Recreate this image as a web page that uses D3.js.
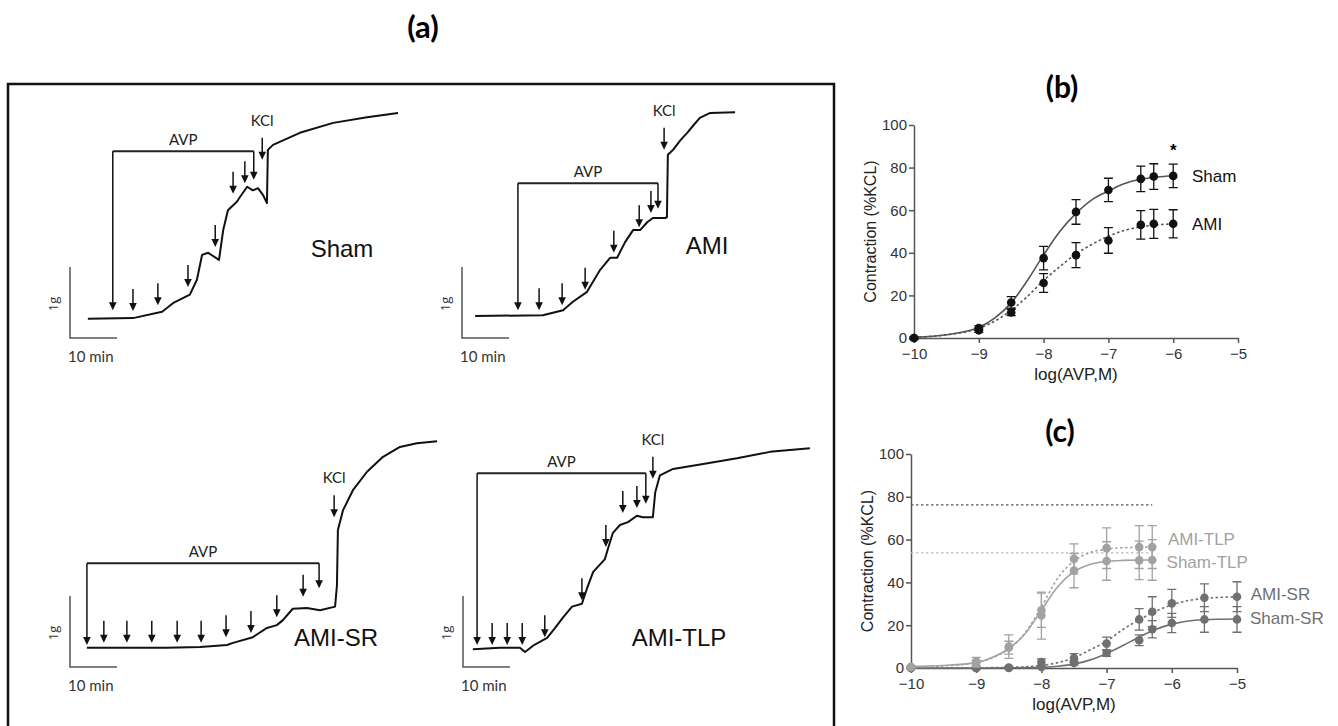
<!DOCTYPE html>
<html>
<head>
<meta charset="utf-8">
<script src="https://cdn.jsdelivr.net/npm/d3@7"></script>
<style>
  body { margin: 0; background: #fff; }
  svg text { font-family: "Liberation Sans", Arial, sans-serif; }
</style>
</head>
<body>
<script>
// ---------- (a) isometric tension traces: [time (min), tension (g)] ----------
var shamTrace = [[3.8,0.27],[13.4,0.28],[19.6,0.37],[21.9,0.49],[25.5,0.61],[27.0,0.82],[28.1,1.17],[29.4,1.20],
  [31.7,1.10],[32.6,1.52],[33.6,1.80],[35.5,1.92],[36.2,1.99],[37.7,2.13],[38.9,2.08],[40.0,2.11],[41.1,2.01],
  [41.9,1.90],[42.1,2.65],[43.2,2.72],[48.9,2.89],[56.0,3.03],[63.2,3.11],[69.8,3.17]];
var amiTrace = [[2.8,0.31],[17.2,0.32],[21.5,0.39],[23.6,0.51],[26.6,0.65],[29.4,0.96],[31.5,1.13],[33.0,1.13],
  [34.7,1.35],[36.4,1.52],[37.9,1.52],[39.4,1.63],[40.6,1.69],[43.2,1.69],[43.6,1.70],[43.8,2.58],[44.9,2.65],
  [46.4,2.78],[47.9,2.89],[49.3,3.00],[50.6,3.10],[52.8,3.17],[58.1,3.18]];
var amiSrTrace = [[3.6,0.27],[20.6,0.27],[27.7,0.28],[33.4,0.31],[34.7,0.34],[38.9,0.42],[41.9,0.55],[44.0,0.59],
  [45.3,0.66],[47.4,0.82],[50.4,0.83],[53.2,0.80],[56.4,0.85],[56.8,1.15],[57.0,1.93],[58.1,2.21],[60.2,2.49],
  [63.2,2.75],[66.6,2.96],[70.2,3.10],[73.8,3.15],[78.1,3.18]];
var amiTlpTrace = [[2.1,0.25],[7.9,0.27],[12.1,0.27],[13.2,0.21],[14.9,0.30],[17.9,0.41],[19.6,0.55],[21.3,0.70],
  [23.2,0.85],[25.3,0.89],[26.4,1.11],[27.7,1.34],[30.2,1.52],[30.9,1.68],[31.9,1.89],[33.4,2.00],[35.1,2.04],
  [37.0,2.13],[38.3,2.11],[40.4,2.11],[40.9,2.46],[41.9,2.70],[44.7,2.79],[51.1,2.86],[58.3,2.94],[65.3,3.03],[73.8,3.08]];

// AVP additions (time, arrow tip level) and KCl addition
var shamAvpT = [9.1,13.4,18.7,25.1,30.9,34.7,37.2,39.1];
var shamAvpTip = [0.39,0.38,0.46,0.72,1.28,2.03,2.18,2.23];
var amiAvpT = [11.9,16.4,21.3,26.2,32.3,37.7,40.2,41.7];
var amiAvpTip = [0.39,0.39,0.46,0.68,1.20,1.56,1.76,1.82];
var amiSrAvpT = [3.6,7.2,12.1,17.4,22.8,27.9,33.2,38.5,44.0,49.6,53.0];
var amiSrAvpTip = [0.31,0.34,0.34,0.34,0.34,0.34,0.42,0.48,0.70,0.99,1.11];
var amiTlpAvpT = [3.0,6.2,9.4,12.6,17.4,25.3,30.4,34.0,37.0,38.9];
var amiTlpAvpTip = [0.31,0.31,0.31,0.31,0.42,0.94,1.69,2.17,2.24,2.30];
var kclT = [40.9, 43.0, 56.2, 40.4];
var kclTip = [2.51, 2.65, 2.11, 2.65];
var bracketG = [2.63, 2.18, 1.46, 2.73];
var groupNames = ["Sham", "AMI", "AMI-SR", "AMI-TLP"];

// ---------- (b) concentration-response ----------
var doseB = [-10,-9,-8.5,-8,-7.5,-7,-6.5,-6.3,-6];
var shamMean = [0,4.7,16.7,37.5,59.2,69.5,74.7,75.8,76.1];
var shamSem = [0.5,1,2.7,5.5,5.8,5.5,6,6,5.5];
var amiMean = [0,3.6,12,25.8,38.9,45.8,53.1,53.6,53.6];
var amiSem = [0.5,1,1.5,4.4,5.9,6,6.7,6.8,6.6];
var fitXB = [-10,-9.5,-9,-8.75,-8.5,-8.25,-8,-7.75,-7.5,-7.25,-7,-6.75,-6.5,-6.25,-6];
var shamFit = [0.3,1.5,5,9.5,16.5,27,39,50,58.5,65,69,72.5,74.5,75.6,76.2];
var amiFit = [0.3,1.5,4.5,8,13,19.5,27,33.5,39.5,44,47.8,50.5,52.2,53.1,53.6];

// ---------- (c) treated groups ----------
var doseTLP = [-10,-9,-8.5,-8,-7.5,-7,-6.5,-6.3];
var amiTlpMean = [0.5,3,10,27,51,56,56.5,56.5];
var amiTlpSem = [0.5,2,5.5,8,7,9.5,10,10];
var shamTlpMean = [0.5,2,9.5,24.5,45.5,50,50.3,50.5];
var shamTlpSem = [0.5,1.5,3,11,8,9,9,9.5];
var doseSR = [-10,-9,-8.5,-8,-7.5,-7,-6.5,-6.3,-6,-5.5,-5];
var amiSrMean = [0,0,0.2,2.8,4.7,11.4,22.7,26.3,30.2,32.8,33.3];
var amiSrSem = [0,0.5,0.5,1.5,2,3,5,7,6.5,6.5,7];
var shamSrMean = [0,0,0,0.5,2.3,7,13,18.1,21,22.7,22.7];
var shamSrSem = [0,0.3,0.3,0.5,1,1.5,2.5,4,4.5,6,6];
var fitXTLP = [-10,-9.5,-9,-8.75,-8.5,-8.25,-8,-7.75,-7.5,-7.25,-7,-6.75,-6.5,-6.3];
var shamTlpFit = [0.8,1.2,2.5,5,9,16,27,38,45,48.5,49.8,50.3,50.5,50.5];
var amiTlpFit = [0.5,1,2.5,4.8,9,16.5,28.5,42,50,54,55.5,56.2,56.4,56.5];
var fitXSR = [-10,-9,-8.5,-8,-7.75,-7.5,-7.25,-7,-6.75,-6.5,-6.25,-6,-5.75,-5.5,-5.25,-5];
var amiSrFit = [0,0.1,0.3,1.2,2.5,4.8,8.5,12.5,18,22.5,26.5,29.5,31.5,32.5,33,33.3];
var shamSrFit = [0,0,0.1,0.3,0.8,1.8,3.8,6.8,10.5,14.5,18,20.5,22,22.6,22.8,22.9];
var refMax = [76.2, 53.8];   // Sham / AMI maxima from (b)

var svg = d3.select("body").append("svg")
  .attr("width", 1338).attr("height", 726);
svg.append("rect").attr("width", 1338).attr("height", 726).attr("fill", "#fff");

// ---------- panel (a) ----------
svg.append("rect").attr("x", 8).attr("y", 84).attr("width", 826).attr("height", 660)
  .attr("fill", "none").attr("stroke", "#111").attr("stroke-width", 2.5);

svg.append("text").attr("x", 423).attr("y", 38).attr("text-anchor", "middle")
  .style("font-family", "Lato, sans-serif").style("font-weight", "bold").style("font-size", "31px")
  .text("(a)");

var tracePanels = [
  { trace: shamTrace, avpT: shamAvpT, avpTip: shamAvpTip, ox: 70, oy: 338, lx: 342, ly: 257 },
  { trace: amiTrace, avpT: amiAvpT, avpTip: amiAvpTip, ox: 462, oy: 338, lx: 707, ly: 254 },
  { trace: amiSrTrace, avpT: amiSrAvpT, avpTip: amiSrAvpTip, ox: 70, oy: 667, lx: 336, ly: 646 },
  { trace: amiTlpTrace, avpT: amiTlpAvpT, avpTip: amiTlpAvpTip, ox: 463, oy: 667, lx: 679, ly: 646 }
];

function arrow(g, x, yTip, yTop) {
  g.append("line").attr("x1", x).attr("x2", x).attr("y1", yTop).attr("y2", yTip - 6)
    .attr("stroke", "#111").attr("stroke-width", 1.5);
  g.append("path").attr("d", "M" + x + "," + yTip + "l-3.8,-8h7.6z").attr("fill", "#111");
}

tracePanels.forEach(function(p, i) {
  var g = svg.append("g");
  var x = d3.scaleLinear().domain([0, 10]).range([p.ox, p.ox + 47]);
  var y = d3.scaleLinear().domain([0, 1]).range([p.oy, p.oy - 71]);

  // scale bar
  g.append("path").attr("d", "M" + x(0) + "," + y(1) + "V" + y(0) + "H" + x(10))
    .attr("fill", "none").attr("stroke", "#555").attr("stroke-width", 1.5);
  g.append("text").attr("transform", "translate(" + (x(0) - 12) + "," + (y(0.48)) + ") rotate(-90)")
    .attr("text-anchor", "middle").style("font-family", "Open Sans, sans-serif").style("font-size", "13px")
    .attr("fill", "#333").text("1g");
  g.append("text").attr("x", x(0) - 2).attr("y", y(0) + 24)
    .style("font-family", "Lato, sans-serif").style("font-size", "15px").attr("fill", "#333").text("10 min");

  // trace
  g.append("path").datum(p.trace)
    .attr("d", d3.line().x(function(d) { return x(d[0]); }).y(function(d) { return y(d[1]); }))
    .attr("fill", "none").attr("stroke", "#111").attr("stroke-width", 2).attr("stroke-linejoin", "round");

  // AVP bracket and arrows
  var n = p.avpT.length, by = y(bracketG[i]);
  g.append("line").attr("x1", x(p.avpT[0])).attr("x2", x(p.avpT[n - 1])).attr("y1", by).attr("y2", by)
    .attr("stroke", "#222").attr("stroke-width", 2);
  p.avpT.forEach(function(t, k) {
    var tip = y(p.avpTip[k]);
    var top = (k === 0 || k === n - 1) ? by : tip - 22;
    arrow(g, x(t), tip, top);
  });
  g.append("text").attr("x", (x(p.avpT[0]) + x(p.avpT[n - 1])) / 2).attr("y", by - 6)
    .attr("text-anchor", "middle").style("font-family", "Lato, sans-serif").style("font-size", "15px")
    .attr("fill", "#222").text("AVP");

  // KCl
  var kt = y(kclTip[i]);
  arrow(g, x(kclT[i]), kt, kt - 22);
  g.append("text").attr("x", x(kclT[i])).attr("y", kt - 34).attr("text-anchor", "middle")
    .style("font-family", "Lato, sans-serif").style("font-size", "15px").attr("fill", "#222").text("KCl");

  g.append("text").attr("x", p.lx).attr("y", p.ly).attr("text-anchor", "middle")
    .style("font-size", "24px").attr("fill", "#111").text(groupNames[i]);
});

// ---------- panels (b) and (c) ----------
function drawAxes(x, y, title, titleY) {
  var g = svg.append("g");
  g.append("g").attr("transform", "translate(" + x.range()[0] + ",0)")
    .call(d3.axisLeft(y).tickValues([0,20,40,60,80,100]).tickSize(5).tickSizeOuter(0).tickPadding(2));
  g.append("g").attr("transform", "translate(0," + y.range()[0] + ")")
    .call(d3.axisBottom(x).tickValues([-10,-9,-8,-7,-6,-5]).tickFormat(d3.format("d"))
      .tickSize(5).tickSizeOuter(0).tickPadding(5));
  g.selectAll(".domain, .tick line").attr("stroke", "#555").attr("stroke-width", 1.5);
  g.selectAll(".tick text").attr("fill", "#333").style("font-size", "15px")
    .style("font-family", "Liberation Sans, Arial, sans-serif");
  var cy = (y.range()[0] + y.range()[1]) / 2;
  g.append("text").attr("transform", "translate(" + (x.range()[0] - 38) + "," + cy + ") rotate(-90)")
    .attr("text-anchor", "middle").style("font-size", "16px").attr("fill", "#222").text("Contraction (%KCL)");
  g.append("text").attr("x", (x.range()[0] + x.range()[1]) / 2).attr("y", y.range()[0] + 42)
    .attr("text-anchor", "middle").style("font-size", "17px").attr("fill", "#222").text("log(AVP,M)");
  svg.append("text").attr("x", (x.range()[0] + x.range()[1]) / 2 - 14).attr("y", titleY)
    .attr("text-anchor", "middle").style("font-family", "Lato, sans-serif").style("font-weight", "bold")
    .style("font-size", "30px").text(title);
}

function drawSeries(x, y, dose, mean, sem, fx, fy, color, lineColor, dash) {
  var g = svg.append("g");
  var pts = fx.map(function(v, i) { return [v, fy[i]]; });
  g.append("path").datum(pts)
    .attr("d", d3.line().curve(d3.curveMonotoneX).x(function(d) { return x(d[0]); }).y(function(d) { return y(d[1]); }))
    .attr("fill", "none").attr("stroke", lineColor).attr("stroke-width", 1.6)
    .attr("stroke-dasharray", dash ? "2.5,2.5" : null);
  dose.forEach(function(d, i) {
    var x0 = x(d), y1 = y(mean[i] + sem[i]), y2 = y(mean[i] - sem[i]);
    g.append("path").attr("d", "M" + (x0 - 4.5) + "," + y1 + "h9M" + x0 + "," + y1 + "V" + y2 + "M" + (x0 - 4.5) + "," + y2 + "h9")
      .attr("fill", "none").attr("stroke", color).attr("stroke-width", 1.3);
    g.append("circle").attr("cx", x0).attr("cy", y(mean[i])).attr("r", 4.3).attr("fill", color);
  });
}

var xB = d3.scaleLinear().domain([-10, -5]).range([914, 1238]);
var yB = d3.scaleLinear().domain([0, 100]).range([338, 125]);
drawAxes(xB, yB, "(b)", 98);
drawSeries(xB, yB, doseB, amiMean, amiSem, fitXB, amiFit, "#111", "#555", true);
drawSeries(xB, yB, doseB, shamMean, shamSem, fitXB, shamFit, "#111", "#555", false);
svg.selectAll(null).data([["Sham", shamMean[8]], ["AMI", amiMean[8]]]).enter().append("text")
  .attr("x", xB(-5.71)).attr("y", function(d) { return yB(d[1]) + 6; })
  .style("font-size", "17px").attr("fill", "#111").text(function(d) { return d[0]; });
svg.append("text").attr("x", xB(-6)).attr("y", yB(89.8) + 9).attr("text-anchor", "middle")
  .style("font-size", "17px").style("font-weight", "bold").text("*");

var xC = d3.scaleLinear().domain([-10, -5]).range([911, 1237]);
var yC = d3.scaleLinear().domain([0, 100]).range([668, 454]);
drawAxes(xC, yC, "(c)", 442);
svg.selectAll(null).data(refMax).enter().append("line")
  .attr("x1", xC(-10)).attr("x2", xC(-6.3))
  .attr("y1", function(d) { return yC(d); }).attr("y2", function(d) { return yC(d); })
  .attr("stroke", function(d, i) { return i === 0 ? "#555" : "#bbb"; })
  .attr("stroke-width", 1.3).attr("stroke-dasharray", "2.5,2.5");
var tlpColor = "#a2a2a2", srColor = "#707070";
drawSeries(xC, yC, doseSR, shamSrMean, shamSrSem, fitXSR, shamSrFit, srColor, srColor, false);
drawSeries(xC, yC, doseSR, amiSrMean, amiSrSem, fitXSR, amiSrFit, srColor, srColor, true);
drawSeries(xC, yC, doseTLP, shamTlpMean, shamTlpSem, fitXTLP, shamTlpFit, tlpColor, tlpColor, false);
drawSeries(xC, yC, doseTLP, amiTlpMean, amiTlpSem, fitXTLP, amiTlpFit, tlpColor, tlpColor, true);
var cLabels = [["AMI-TLP", -6.06, 60.3, tlpColor], ["Sham-TLP", -6.08, 49.5, tlpColor],
               ["AMI-SR", -4.79, 34.6, srColor], ["Sham-SR", -4.8, 23.4, srColor]];
svg.selectAll(null).data(cLabels).enter().append("text")
  .attr("x", function(d) { return xC(d[1]); }).attr("y", function(d) { return yC(d[2]) + 6; })
  .style("font-size", "17px").attr("fill", function(d) { return d[3]; }).text(function(d) { return d[0]; });
</script>
</body>
</html>
